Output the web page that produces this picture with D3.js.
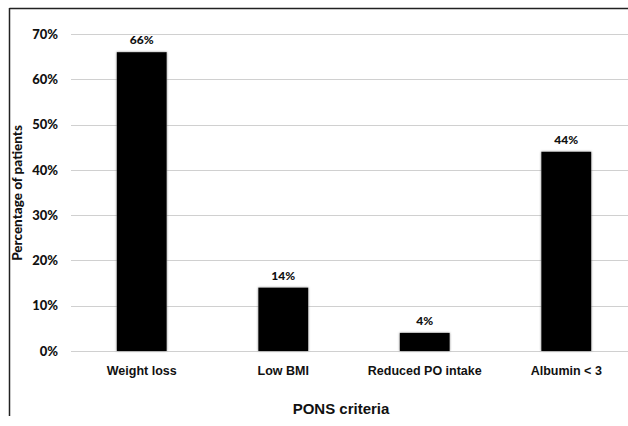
<!DOCTYPE html>
<html><head><meta charset="utf-8">
<script src="https://cdn.jsdelivr.net/npm/d3@7"></script>
<style>body{margin:0;background:#fff;} svg{display:block;}</style>
</head><body>
<script>
const categories = ["Weight loss", "Low BMI", "Reduced PO intake", "Albumin < 3"];
const values = [66, 14, 4, 44];
const yTicks = [0, 10, 20, 30, 40, 50, 60, 70];
const yTitle = "Percentage of patients";
const xTitle = "PONS criteria";

const W = 628, H = 426;
const svg = d3.select("body").append("svg").attr("width", W).attr("height", H);

const defs = svg.append("defs");
const f = defs.append("filter").attr("id","sh").attr("x","-20%").attr("y","-20%").attr("width","140%").attr("height","140%");
f.append("feDropShadow").attr("dx",0).attr("dy",0).attr("stdDeviation",1.2).attr("flood-color","#777").attr("flood-opacity",0.9);

// frame
svg.append("line").attr("x1",9.5).attr("x2",W).attr("y1",8.5).attr("y2",8.5).attr("stroke","#222").attr("stroke-width",1.5);
svg.append("line").attr("x1",9.5).attr("x2",9.5).attr("y1",8).attr("y2",416).attr("stroke","#222").attr("stroke-width",1.5);

const x = d3.scaleBand().domain(categories).range([71, 637]).paddingInner(0.647).paddingOuter(0.3235);
const y = d3.scaleLinear().domain([0, 70]).range([351, 34]);

// gridlines
svg.append("g").selectAll("line").data(yTicks).join("line")
  .attr("x1", 71).attr("x2", W)
  .attr("y1", d => Math.round(y(d)) + 0.5).attr("y2", d => Math.round(y(d)) + 0.5)
  .attr("stroke", "#d0d0d0").attr("stroke-width", 1.2);

// y axis labels
const yAxis = d3.axisLeft(y).tickValues(yTicks).tickFormat(d => d + "%").tickSize(0).tickPadding(0);
const ga = svg.append("g").attr("transform", "translate(58,0)").call(yAxis);
ga.select(".domain").remove();
ga.selectAll("text").attr("font-family", "Lato, 'Open Sans', sans-serif").attr("font-weight", "900")
  .attr("font-size", 13).attr("fill", "#111");

// bars
svg.append("g").selectAll("rect").data(values).join("rect")
  .attr("x", (d, i) => x(categories[i])).attr("width", x.bandwidth())
  .attr("y", d => y(d)).attr("height", d => y(0) - y(d))
  .attr("fill", "#000").attr("filter", "url(#sh)");

// value labels
svg.append("g").selectAll("text").data(values).join("text")
  .attr("x", (d, i) => x(categories[i]) + x.bandwidth() / 2)
  .attr("y", d => y(d) - 8)
  .attr("text-anchor", "middle")
  .attr("font-family", "Lato, 'Open Sans', sans-serif").attr("font-weight", "900")
  .attr("font-size", 12).attr("fill", "#111")
  .text(d => d + "%");

// x labels
const xAxis = d3.axisBottom(x).tickSize(0).tickPadding(0);
const gx = svg.append("g").attr("transform", "translate(0,371)").call(xAxis);
gx.select(".domain").remove();
gx.selectAll("text").attr("font-family", "'Liberation Sans', Arial, sans-serif").attr("font-weight", "bold")
  .attr("font-size", 12.5).attr("fill", "#111").attr("dy", "0.3em");

// axis titles
svg.append("text").attr("x", 341).attr("y", 414).attr("text-anchor", "middle")
  .attr("font-family", "'Liberation Sans', Arial, sans-serif").attr("font-weight", "bold")
  .attr("font-size", 15).attr("fill", "#111").text(xTitle);

svg.append("text").attr("transform", "translate(22,193) rotate(-90)").attr("text-anchor", "middle")
  .attr("font-family", "Lato, 'Open Sans', sans-serif").attr("font-weight", "900")
  .attr("font-size", 13.5).attr("fill", "#111").text(yTitle);
</script>
</body></html>
